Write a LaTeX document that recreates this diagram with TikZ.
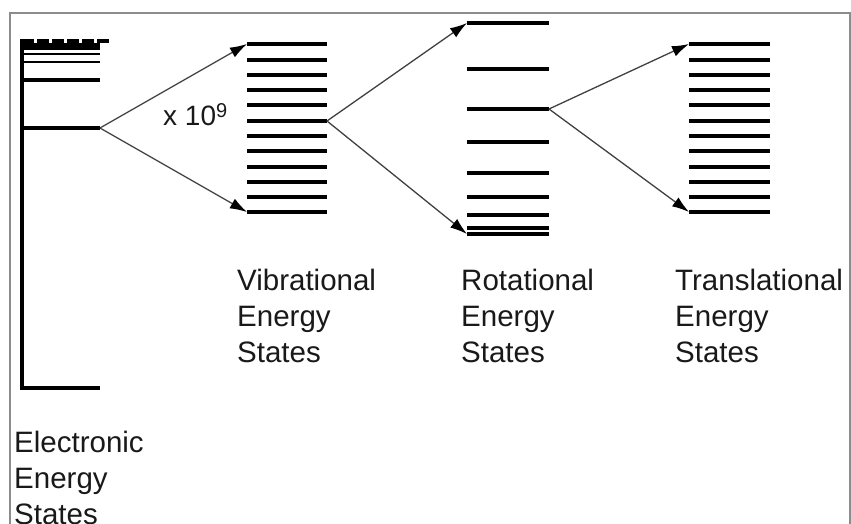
\documentclass[tikz,border=0pt]{standalone}
\usepackage{fontspec}
\setmainfont{Liberation Sans}
\usetikzlibrary{arrows.meta}
\begin{document}
\begin{tikzpicture}[x=1pt,y=-1pt,
  frame/.style={draw=black!45,line width=1.6pt},
  lvlA/.style={line width=4.3pt},
  lvlB/.style={line width=3.4pt},
  lvlC/.style={line width=2.4pt},
  conn/.style={draw=black!75,line width=1.3pt,-{Latex[length=17pt,width=11pt,color=black]}},
  lbl/.style={inner sep=0pt,anchor=base west,text=black!90,font=\fontsize{29.5}{36}\selectfont}]
\useasboundingbox (0,0) rectangle (851,524);
% frame (open at bottom)
\draw[frame] (10,524) -- (10,13) -- (850,13) -- (850,524);
% electronic levels
\draw[line width=4pt] (22,39) -- (22,390);
\draw[lvlA] (20,388) -- (100,388);
\draw[lvlB] (22,128) -- (100,128);
\draw[lvlB] (22,80) -- (100,80);
\draw[lvlC] (22,62) -- (100,62);
\draw[lvlC] (22,54) -- (100,54);
\draw[line width=7pt] (22,46.5) -- (100,46.5);
\draw[line width=3.2pt,dash pattern=on 12pt off 3pt] (22,41) -- (110,41);
% vibrational levels
\foreach \y in {75,105,121,151,167,197} \draw[lvlA] (247,\y) -- (327,\y);
\foreach \y in {44,60,90,136,182,212} \draw[lvlB] (247,\y) -- (327,\y);
% rotational levels
\foreach \y in {23,69,109,173,197,215} \draw[lvlA] (467,\y) -- (549,\y);
\foreach \y in {142,228,234} \draw[lvlB] (467,\y) -- (549,\y);
% translational levels
\foreach \y in {75,105,121,151,167,197} \draw[lvlA] (689,\y) -- (770,\y);
\foreach \y in {44,60,90,136,182,212} \draw[lvlB] (689,\y) -- (770,\y);
% connector end points
\coordinate (e0) at (100,128);
\coordinate (vtop) at (247,44);
\coordinate (vbot) at (247,212);
\coordinate (vmid) at (327,121);
\coordinate (rtop) at (467,23);
\coordinate (rbot) at (467,234);
\coordinate (rmid) at (549,109);
\coordinate (ttop) at (689,44);
\coordinate (tbot) at (689,212);
\draw[conn] (e0) -- (vtop);
\draw[conn] (e0) -- (vbot);
\draw[conn] (vmid) -- (rtop);
\draw[conn] (vmid) -- (rbot);
\draw[conn] (rmid) -- (ttop);
\draw[conn] (rmid) -- (tbot);
% factor
\node[inner sep=0pt,anchor=base west,text=black!90,font=\fontsize{28}{28}\selectfont] (fac) at (163,126) {x 10\raisebox{8pt}{\fontsize{20}{20}\selectfont 9}};
% labels
\node[lbl] (el1) at (14,452) {Electronic};
\node[lbl] (el2) at (14,488) {Energy};
\node[lbl] (el3) at (14,524) {States};
\node[lbl] (vl1) at (237,290) {Vibrational};
\node[lbl] (vl2) at (237,326) {Energy};
\node[lbl] (vl3) at (237,362) {States};
\node[lbl] (rl1) at (461,290) {Rotational};
\node[lbl] (rl2) at (461,326) {Energy};
\node[lbl] (rl3) at (461,362) {States};
\node[lbl] (tl1) at (675,290) {Translational};
\node[lbl] (tl2) at (675,326) {Energy};
\node[lbl] (tl3) at (675,362) {States};
\end{tikzpicture}
\end{document}
